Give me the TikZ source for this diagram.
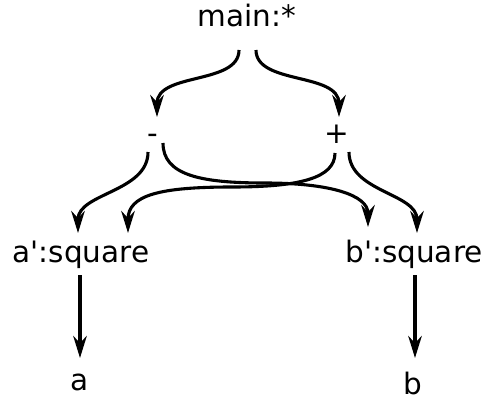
\documentclass[tikz,border=0pt]{standalone}
\usepackage{fontspec}
\setmainfont{DejaVu Sans}[Ligatures=TeXOff]
\usetikzlibrary{arrows.meta}
\begin{document}
\begin{tikzpicture}[x=1pt,y=1pt,
  lbl/.style={anchor=base,inner sep=0pt,font=\fontsize{29.5}{34}\selectfont},
  arr/.style={line width=3.1pt,-{Stealth[length=22pt,width=13.5pt,inset=7pt]}}]
\useasboundingbox (0,0) rectangle (484,400);
\node[lbl] (main) at (247,373) {main:*};
\node[lbl] (minus) at (153,257) {-};
\node[lbl] (plus) at (336.5,257) {+};
\node[lbl] (asq) at (81,138) {a':square};
\node[lbl] (bsq) at (414,138) {b':square};
\node[lbl] (a) at (80,10) {a};
\node[lbl] (b) at (413,6) {b};
% main -> minus, plus
\draw[arr] ([shift={(-8,-23)}]main.base) .. controls +(0,-35) and +(0,45) .. ([shift={(4,26)}]minus.base);
\draw[arr] ([shift={(9,-23)}]main.base) .. controls +(0,-35) and +(0,45) .. ([shift={(2.5,26)}]plus.base);
% minus -> asq, bsq
\draw[arr] ([shift={(-5,-9)}]minus.base) .. controls +(0,-40) and +(0,40) .. ([shift={(-3,29)}]asq.base);
\draw[arr] ([shift={(10,0)}]minus.base) .. controls +(0,-32) and +(-65,0) .. ++(102,-40)
  .. controls +(65,0) and +(0,32) .. ([shift={(-46,35)}]bsq.base);
% plus -> asq, bsq
\draw[arr] ([shift={(-1.5,-10)}]plus.base) .. controls +(0,-25) and +(68,0) .. ++(-103,-34)
  .. controls +(-72,0) and +(0,38) .. ([shift={(47,29)}]asq.base);
\draw[arr] ([shift={(12.5,-9)}]plus.base) .. controls +(0,-40) and +(0,40) .. ([shift={(3,29)}]bsq.base);
% squares -> leaves
\draw[arr] ([shift={(-1,-13)}]asq.base) -- ([shift={(0,32)}]a.base);
\draw[arr] ([shift={(1,-13)}]bsq.base) -- ([shift={(2,36)}]b.base);
\end{tikzpicture}
\end{document}
